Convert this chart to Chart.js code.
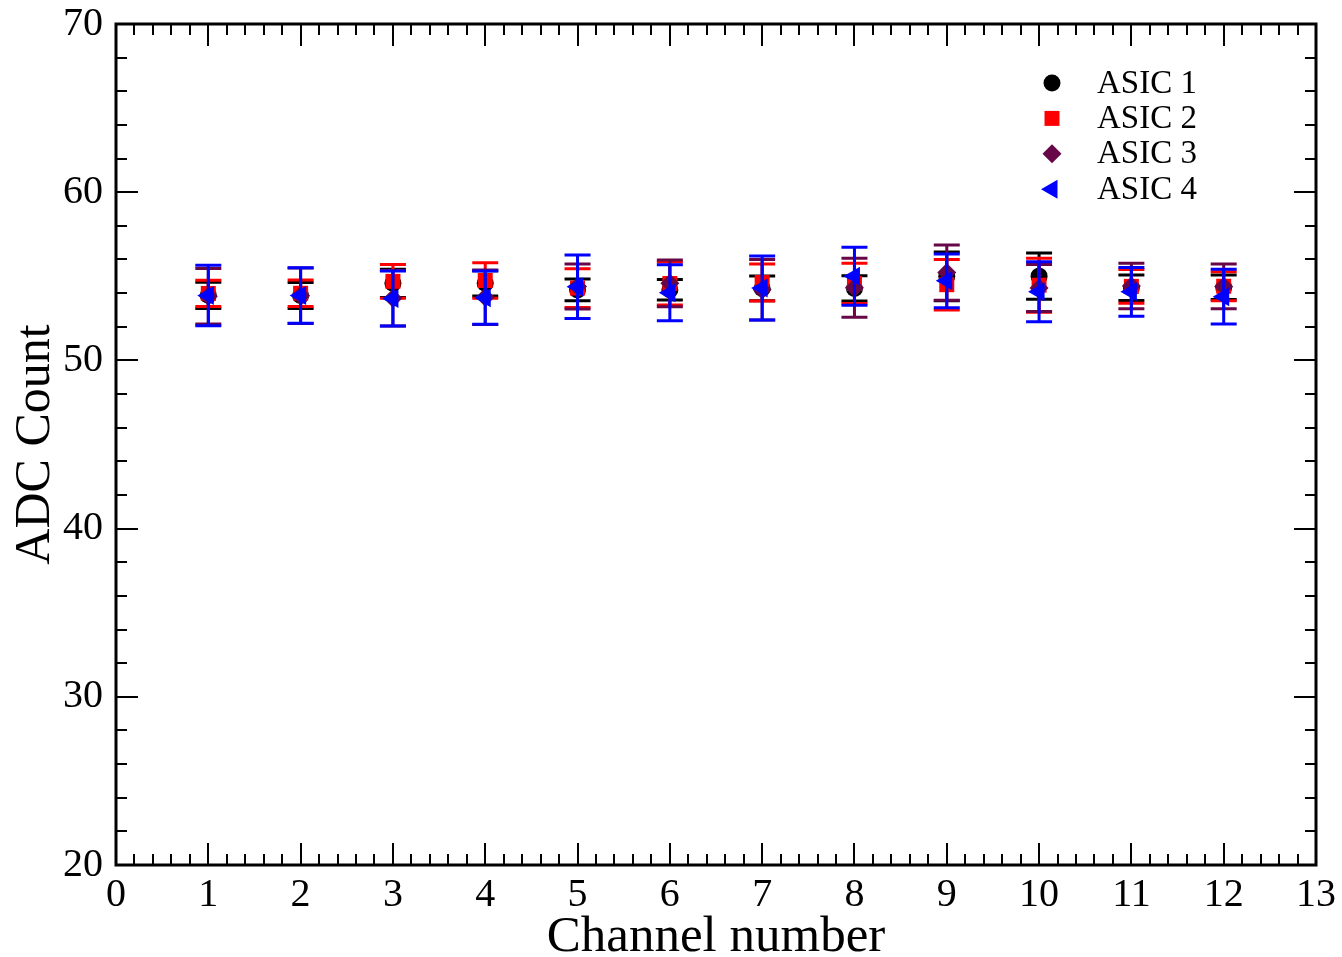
<!DOCTYPE html>
<html><head><meta charset="utf-8">
<script src="https://cdn.jsdelivr.net/npm/chart.js@4/dist/chart.umd.min.js"></script>
<style>html,body{margin:0;padding:0;background:#fff}canvas{display:block}</style>
</head><body>
<canvas id="c" width="1342" height="957"></canvas>
<script>
const channels = [1, 2, 3, 4, 5, 6, 7, 8, 9, 10, 11, 12];
const asic1 = [53.87, 53.86, 54.58, 54.58, 54.19, 54.20, 54.28, 54.28, 55.00, 55.01, 54.32, 54.35];
const asic1Err = [0.78, 0.77, 0.84, 0.75, 0.65, 0.61, 0.74, 0.75, 1.45, 1.38, 0.76, 0.73];
const asic2 = [53.98, 53.99, 54.70, 54.75, 54.30, 54.57, 54.63, 54.58, 54.50, 54.47, 54.40, 54.41];
const asic2Err = [0.78, 0.79, 1.00, 1.06, 1.15, 1.28, 1.10, 1.19, 1.50, 1.60, 1.00, 0.86];
const asic3 = [53.82, 53.85, 53.70, 53.75, 54.39, 54.58, 54.20, 54.32, 55.22, 54.30, 54.42, 54.40];
const asic3Err = [1.65, 1.65, 1.65, 1.62, 1.34, 1.39, 1.80, 1.75, 1.64, 1.40, 1.35, 1.33];
const asic4 = [53.86, 53.86, 53.68, 53.73, 54.38, 54.02, 54.30, 55.00, 54.73, 54.08, 54.08, 53.79];
const asic4Err = [1.80, 1.65, 1.63, 1.58, 1.89, 1.66, 1.90, 1.72, 1.60, 1.78, 1.45, 1.63];
const seriesNames = ['ASIC 1', 'ASIC 2', 'ASIC 3', 'ASIC 4'];
const xTitle = 'Channel number';
const yTitle = 'ADC Count';

const SERIF = "'Liberation Serif', 'DejaVu Serif', serif";
const styles = [
  {color: '#000000', pointStyle: 'circle', radius: 8.5, rotation: 0},
  {color: '#ff0000', pointStyle: 'rect', radius: 10.6, rotation: 0},
  {color: '#670748', pointStyle: 'rectRot', radius: 9.5, rotation: 0},
  {color: '#0000ff', pointStyle: 'triangle', radius: 11, rotation: -90}
];
const values = [asic1, asic2, asic3, asic4];
const errs = [asic1Err, asic2Err, asic3Err, asic4Err];

const datasets = seriesNames.map((name, k) => ({
  label: name,
  data: channels.map((c, i) => ({x: c, y: values[k][i]})),
  errors: errs[k],
  order: 4 - k,
  showLine: false,
  backgroundColor: styles[k].color,
  borderColor: styles[k].color,
  borderWidth: 0,
  pointStyle: styles[k].pointStyle,
  pointRadius: styles[k].radius,
  pointRotation: styles[k].rotation,
  pointHoverRadius: styles[k].radius
}));

const errorBars = {
  id: 'errorBars',
  beforeDatasetDraw(chart, args) {
    const ds = chart.data.datasets[args.index];
    const xs = chart.scales.x, ys = chart.scales.y, ctx = chart.ctx;
    ctx.save();
    ctx.strokeStyle = ds.borderColor;
    ctx.lineWidth = 3;
    ds.data.forEach((p, i) => {
      const e = ds.errors[i];
      const px = xs.getPixelForValue(p.x);
      const top = ys.getPixelForValue(p.y + e), bot = ys.getPixelForValue(p.y - e);
      ctx.beginPath();
      ctx.moveTo(px, top); ctx.lineTo(px, bot);
      ctx.moveTo(px - 13, top); ctx.lineTo(px + 13, top);
      ctx.moveTo(px - 13, bot); ctx.lineTo(px + 13, bot);
      ctx.stroke();
    });
    ctx.restore();
  }
};

const frame = {
  id: 'frame',
  afterDraw(chart) {
    const {ctx, chartArea: a, scales: {x, y}} = chart;
    ctx.save();
    ctx.strokeStyle = '#000';
    ctx.lineWidth = 2;
    ctx.beginPath();
    for (let i = 0; i <= 65; i++) {
      const v = i * 0.2;
      const L = (i % 5 === 0) ? 22 : 11;
      const px = Math.round(x.getPixelForValue(v));
      ctx.moveTo(px, a.bottom); ctx.lineTo(px, a.bottom - L);
      ctx.moveTo(px, a.top); ctx.lineTo(px, a.top + L);
    }
    for (let i = 0; i <= 25; i++) {
      const v = 20 + i * 2;
      const L = (i % 5 === 0) ? 22 : 11;
      const py = Math.round(y.getPixelForValue(v));
      ctx.moveTo(a.left, py); ctx.lineTo(a.left + L, py);
      ctx.moveTo(a.right, py); ctx.lineTo(a.right - L, py);
    }
    ctx.stroke();
    ctx.lineWidth = 3;
    ctx.strokeRect(a.left, a.top, a.right - a.left, a.bottom - a.top);
    ctx.restore();
  }
};

const legendBox = {
  id: 'legendBox',
  afterDraw(chart) {
    const ctx = chart.ctx;
    ctx.save();
    seriesNames.forEach((name, k) => {
      const yy = 83 + k * 35.4;
      ctx.fillStyle = styles[k].color;
      ctx.strokeStyle = styles[k].color;
      Chart.helpers.drawPoint(ctx, {pointStyle: styles[k].pointStyle, radius: styles[k].radius,
        rotation: styles[k].rotation, borderWidth: 0}, 1052, yy);
      ctx.fillStyle = '#000';
      ctx.font = '33px ' + SERIF;
      ctx.textBaseline = 'middle';
      ctx.textAlign = 'left';
      ctx.fillText(name, 1097, yy + 1);
    });
    ctx.restore();
  }
};

new Chart(document.getElementById('c'), {
  type: 'scatter',
  data: {datasets},
  options: {
    responsive: false,
    animation: false,
    devicePixelRatio: 1,
    layout: {padding: {top: 24, right: 26, left: 0, bottom: 0}},
    plugins: {legend: {display: false}, tooltip: {enabled: false}},
    scales: {
      x: {
        type: 'linear', min: 0, max: 13,
        grid: {display: false, drawTicks: false},
        border: {display: false},
        ticks: {stepSize: 1, color: '#000', padding: 6, maxRotation: 0, autoSkip: false,
          font: {family: SERIF, size: 40}},
        title: {display: true, text: xTitle, color: '#000', padding: 0,
          font: {family: SERIF, size: 51, lineHeight: 0.745}},
        afterFit(s) { s.height = 92; }
      },
      y: {
        type: 'linear', min: 20, max: 70,
        grid: {display: false, drawTicks: false},
        border: {display: false},
        ticks: {stepSize: 10, color: '#000', padding: 13, font: {family: SERIF, size: 40, lineHeight: 1}},
        title: {display: true, text: yTitle, color: '#000', padding: 0,
          font: {family: SERIF, size: 50, lineHeight: 1.44}},
        afterFit(s) { s.width = 116; s.paddingTop = 0; s.paddingBottom = 0; }
      }
    }
  },
  plugins: [errorBars, frame, legendBox]
});
</script>
</body></html>
